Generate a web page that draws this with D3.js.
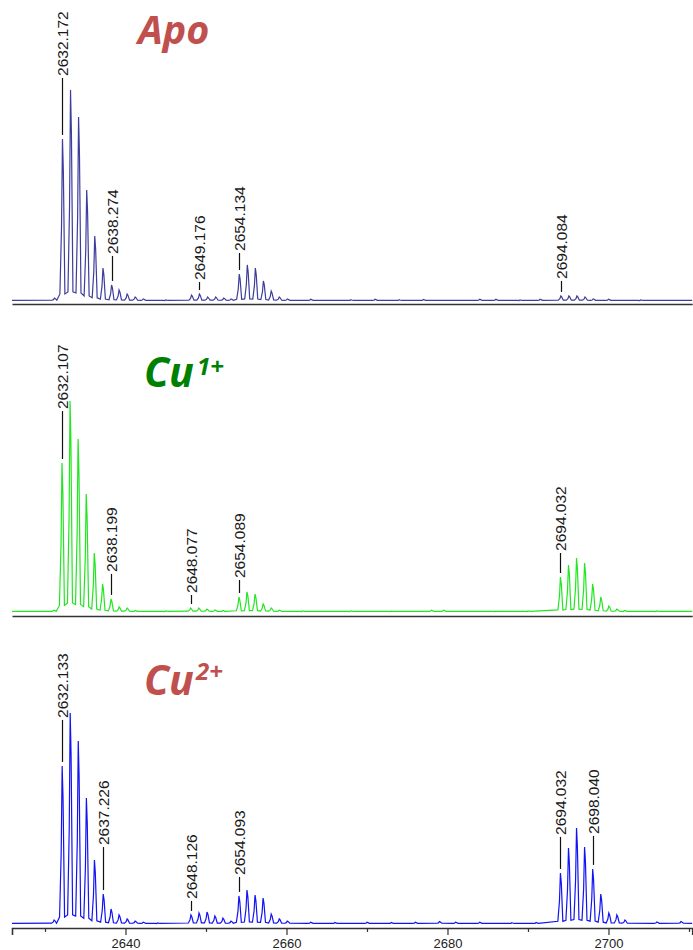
<!DOCTYPE html>
<html>
<head>
<meta charset="utf-8">
<script src="https://cdn.jsdelivr.net/npm/d3@7"></script>
<style>
  html, body { margin: 0; padding: 0; background: #fff; }
  svg { display: block; }
</style>
</head>
<body>
<svg id="chart" width="693" height="950"></svg>
<script>
// ---------------- DATA ----------------
const xTickValues = [2640, 2660, 2680, 2700];
const xMinorTicks = [2630, 2650, 2670, 2690, 2710];
const panelTitles = ["Apo", "Cu", "Cu"];
const panelSuperscripts = ["", "1+", "2+"];

// Apo: peak m/z and relative intensity (%)
const apoMz  = [2631.17, 2632.17, 2633.17, 2634.17, 2635.18, 2636.18, 2637.20, 2638.27, 2639.20, 2640.20, 2641.20, 2642.20,
                2645.0, 2648.20, 2649.18, 2650.20, 2651.20, 2652.20, 2653.10,
                2654.13, 2655.13, 2656.13, 2657.13, 2658.10, 2659.10, 2660.10,
                2663.0, 2668.0, 2671.0, 2674.0, 2677.0, 2684.0, 2686.0, 2689.0, 2691.5,
                2694.08, 2695.08, 2696.08, 2697.08, 2698.10, 2700.0, 2704.0];
const apoInt = [1.4, 76.8, 100, 87.2, 52.6, 30.8, 15.6, 7.6, 5.2, 3.3, 1.9, 1.0,
                0.5, 2.8, 3.3, 1.9, 1.9, 1.4, 1.0,
                12.8, 17.1, 15.6, 9.5, 4.7, 1.9, 1.0,
                0.8, 0.6, 0.8, 0.6, 0.7, 0.8, 0.8, 0.5, 0.8,
                2.4, 2.4, 2.4, 1.9, 1.0, 0.8, 0.5];
const apoLabels = ["2632.172", "2638.274", "2649.176", "2654.134", "2694.084"];

// Cu1+
const cu1Mz  = [2631.10, 2632.11, 2633.11, 2634.11, 2635.12, 2636.12, 2637.15, 2638.20, 2639.20, 2640.20, 2641.20,
                2645.0, 2648.08, 2649.10, 2650.10, 2651.10, 2652.10,
                2654.09, 2655.09, 2656.09, 2657.10, 2658.10, 2659.10,
                2662.0, 2668.0, 2673.0, 2678.0, 2679.5, 2686.0, 2690.0,
                2694.03, 2695.03, 2696.03, 2697.03, 2698.03, 2699.04, 2700.04, 2701.04, 2702.0, 2706.0];
const cu1Int = [0.8, 70.6, 100, 82.0, 55.9, 28.0, 13.3, 6.2, 2.4, 1.9, 0.7,
                0.5, 1.9, 1.9, 1.4, 1.0, 0.7,
                7.1, 9.5, 8.5, 3.8, 1.9, 0.9,
                0.5, 0.5, 0.4, 0.8, 0.8, 0.4, 0.5,
                16.6, 22.3, 25.6, 23.2, 13.3, 7.1, 2.8, 1.4, 0.7, 0.5];
const cu1Labels = ["2632.107", "2638.199", "2648.077", "2654.089", "2694.032"];

// Cu2+
const cu2Mz  = [2631.13, 2632.13, 2633.13, 2634.13, 2635.14, 2636.14, 2637.23, 2638.20, 2639.20, 2640.20, 2641.20, 2642.20, 2644.0,
                2648.13, 2649.13, 2650.13, 2651.10, 2652.10, 2653.10,
                2654.09, 2655.09, 2656.09, 2657.09, 2658.10, 2659.10, 2660.10,
                2663.0, 2666.0, 2670.0, 2673.0, 2676.0, 2679.0, 2681.0, 2684.0, 2688.0, 2691.0,
                2694.03, 2695.03, 2696.03, 2697.03, 2698.04, 2699.04, 2700.04, 2701.04, 2702.04, 2706.0, 2709.0];
const cu2Int = [1.9, 74.9, 100, 86.7, 59.7, 30.3, 14.2, 7.1, 4.3, 2.4, 1.4, 0.9, 0.5,
                4.3, 5.2, 5.7, 3.8, 2.8, 1.4,
                13.3, 16.1, 13.7, 12.3, 4.7, 2.4, 1.4,
                0.8, 0.7, 0.8, 0.7, 0.8, 1.2, 0.9, 0.8, 0.6, 0.7,
                24.2, 36.0, 45.5, 36.5, 26.1, 14.2, 5.2, 4.3, 1.9, 1.0, 1.2];
const cu2Labels = ["2632.133", "2637.226", "2648.126", "2654.093", "2694.032", "2698.040"];

// ---------------- LAYOUT / STYLE ----------------
const xDomain = [2625.9, 2710.4];
const xRange = [12, 692.2];
const panelLayout = [
  { base: 301, axisY: 304, color: "#3d3d9c", titleColor: "#c0504d", titleX: 138, titleY: 43.5, titleSize: 39.5, supX: 0, supY: 0 },
  { base: 612, axisY: 616, color: "#22e622", titleColor: "#008000", titleX: 144, titleY: 387, titleSize: 41, supX: 197, supY: 375 },
  { base: 924, axisY: 928, color: "#1212f2", titleColor: "#c0504d", titleX: 144, titleY: 695, titleSize: 41, supX: 196, supY: 680 }
];
const labelLineLengths = [
  [57, 25, 8, 17, 11],
  [48, 21, 9, 13, 20],
  [42, 43, 10, 15, 32, 29]
];
const pxPerPercent = 2.11;

const panelsData = [
  { mz: apoMz, inten: apoInt, labels: apoLabels },
  { mz: cu1Mz, inten: cu1Int, labels: cu1Labels },
  { mz: cu2Mz, inten: cu2Int, labels: cu2Labels }
];

// ---------------- DRAW ----------------
const svg = d3.select("#chart");
const x = d3.scaleLinear().domain(xDomain).range(xRange);

function profilePoints(mz, inten) {
  const floor = 0.3;
  const pts = [[xDomain[0], floor]];
  const peaks = mz.map((m, i) => ({ m, h: inten[i] })).sort((a, b) => a.m - b.m);
  peaks.forEach(p => {
    const v = floor + 0.04 * p.h;
    pts.push([p.m - 0.32, v]);
    pts.push([p.m - 0.12, 0.45 * p.h]);
    pts.push([p.m, p.h]);
    pts.push([p.m + 0.11, 0.8 * p.h]);
    pts.push([p.m + 0.3, v]);
  });
  pts.push([xDomain[1], floor]);
  return pts.sort((a, b) => a[0] - b[0]);
}

panelsData.forEach((pd, i) => {
  const L = panelLayout[i];
  const y = d3.scaleLinear().domain([0, 100]).range([L.base, L.base - 100 * pxPerPercent]);
  const g = svg.append("g");

  // axis line
  const axis = d3.axisBottom(x).tickSizeOuter(0);
  if (i === 2) {
    axis.tickValues(xTickValues).tickSize(7).tickPadding(4).tickFormat(d3.format("d"));
  } else {
    axis.tickValues([]);
  }
  const ax = g.append("g").attr("transform", `translate(0,${L.axisY})`).call(axis);
  ax.select(".domain").attr("stroke", "#333").attr("stroke-width", 1.6);
  ax.selectAll(".tick line").attr("stroke", "#333").attr("stroke-width", 1.2);
  ax.selectAll(".tick text").attr("font-family", "'Liberation Sans', Arial, sans-serif")
    .attr("font-size", 13).attr("fill", "#222");
  if (i === 2) {
    const minor = d3.axisBottom(x).tickValues(xMinorTicks).tickSize(4).tickSizeOuter(0).tickFormat("");
    const mx = g.append("g").attr("transform", `translate(0,${L.axisY})`).call(minor);
    mx.select(".domain").remove();
    mx.selectAll(".tick line").attr("stroke", "#333").attr("stroke-width", 1.2);
  }

  // spectrum trace
  const line = d3.line().x(d => x(d[0])).y(d => y(d[1]));
  g.append("path")
    .datum(profilePoints(pd.mz, pd.inten))
    .attr("d", line)
    .attr("fill", "none")
    .attr("stroke", L.color)
    .attr("stroke-width", 1.2)
    .attr("stroke-linejoin", "miter");

  // peak labels
  pd.labels.forEach((lab, j) => {
    const m = +lab;
    let best = 0;
    pd.mz.forEach((mm, k) => { if (Math.abs(mm - m) < Math.abs(pd.mz[best] - m)) best = k; });
    const top = y(pd.inten[best]);
    const xx = Math.round(x(m)) + 0.5;
    const y1 = top - 4;
    const y0 = y1 - labelLineLengths[i][j];
    g.append("line")
      .attr("x1", xx).attr("x2", xx).attr("y1", y1).attr("y2", y0)
      .attr("stroke", "#111").attr("stroke-width", 1.2);
    g.append("text")
      .attr("transform", `translate(${xx + 5.5},${y0 - 2}) rotate(-90)`)
      .attr("font-family", "'Liberation Sans', Arial, sans-serif")
      .attr("font-size", 15.5)
      .attr("fill", "#1a1a1a")
      .attr("text-anchor", "start")
      .text(lab);
  });

  // panel title
  svg.append("text")
    .attr("x", L.titleX).attr("y", L.titleY)
    .attr("font-family", "'Open Sans', sans-serif")
    .attr("font-weight", "bold").attr("font-style", "italic")
    .attr("font-size", L.titleSize).attr("fill", L.titleColor)
    .text(panelTitles[i]);
  if (panelSuperscripts[i]) {
    svg.append("text")
      .attr("x", L.supX).attr("y", L.supY)
      .attr("font-family", "'Open Sans', sans-serif")
      .attr("font-weight", "bold").attr("font-style", "italic")
      .attr("font-size", 24).attr("fill", L.titleColor)
      .text(panelSuperscripts[i]);
  }
});
</script>
</body>
</html>
